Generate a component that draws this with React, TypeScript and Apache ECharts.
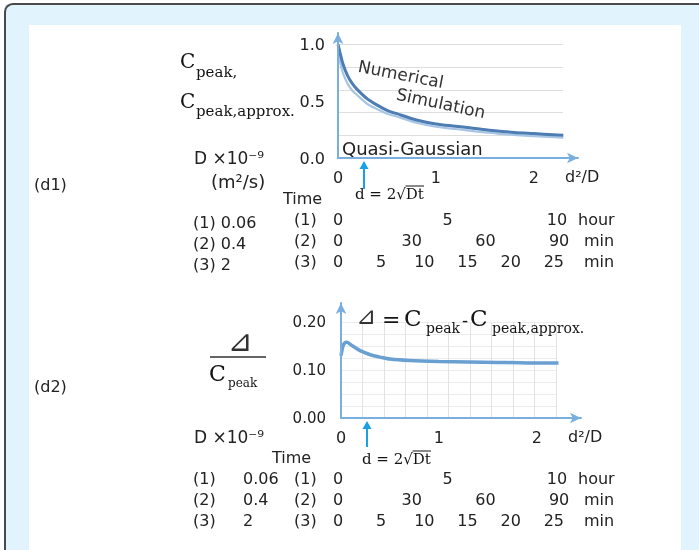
import React, { useEffect, useRef } from 'react';
import * as echarts from 'echarts';

// ---- data ----
const ratioX = [0, 0.02, 0.05, 0.1, 0.15, 0.2, 0.3, 0.4, 0.5, 0.6, 0.8, 1.0, 1.2, 1.4, 1.6, 1.8, 2.0, 2.2, 2.3];
const numericalPeak = [1.0, 0.93, 0.83, 0.72, 0.65, 0.6, 0.52, 0.465, 0.42, 0.39, 0.335, 0.3, 0.28, 0.26, 0.24, 0.225, 0.215, 0.205, 0.2];
const quasiGaussianPeak = [0.97, 0.85, 0.75, 0.65, 0.59, 0.55, 0.475, 0.43, 0.39, 0.365, 0.31, 0.275, 0.255, 0.235, 0.218, 0.203, 0.193, 0.184, 0.18];

const deltaX = [0, 0.02, 0.04, 0.06, 0.1, 0.15, 0.2, 0.3, 0.4, 0.5, 0.7, 1.0, 1.3, 1.6, 1.9, 2.22];
const deltaRatio = [0.13, 0.15, 0.157, 0.158, 0.153, 0.146, 0.14, 0.132, 0.127, 0.123, 0.12, 0.118, 0.117, 0.116, 0.115, 0.115];

const rowNames = ['(1)', '(2)', '(3)'];
const diffusivities = ['0.06', '0.4', '2'];
const timeUnits = ['hour', 'min', 'min'];
const timeIntervals = [5, 30, 5];
// time value that corresponds to the right end (d²/D = 2.45) of each axis row
const timeAtAxisEnd = [10.96, 97.7, 27.8];

const ratioMax = 2.45;
const peakMax = 1.1;
const deltaMax = 0.24;

const AXIS = '#78aee0';
const TXT = '#222';
const DARK = '#141414';
const SANS = 'DejaVu Sans';
const SERIF = 'DejaVu Serif';

function txt(text: string, x: number, y: number, size: number, family = SANS, extra: any = {}) {
  const align = extra.align || 'left';
  const { align: _a, fill: _f, ...rest } = extra;
  return {
    type: 'text',
    x,
    y,
    z: 5,
    ...rest,
    style: {
      text,
      fill: extra.fill || TXT,
      fontSize: size,
      fontFamily: family,
      align,
      textAlign: align,
      verticalAlign: 'middle',
      textVerticalAlign: 'middle',
    },
  };
}

function arrow(x: number, yBottom: number, yTip: number) {
  return [
    { type: 'line', z: 5, shape: { x1: x, y1: yBottom, x2: x, y2: yTip + 5 }, style: { stroke: '#1b9fe6', lineWidth: 2 } },
    { type: 'polygon', z: 5, shape: { points: [[x - 4.5, yTip + 8], [x, yTip], [x + 4.5, yTip + 8]] }, style: { fill: '#1b9fe6' } },
  ];
}

function timeAxes(baseOffset: number) {
  return rowNames.map((_, i) => ({
    gridIndex: 0,
    type: 'value',
    position: 'bottom',
    offset: baseOffset + i * 21,
    min: 0,
    max: timeAtAxisEnd[i],
    interval: timeIntervals[i],
    axisLine: { show: false, onZero: false },
    axisTick: { show: false },
    splitLine: { show: false },
    axisLabel: { margin: 0, verticalAlign: 'middle', showMaxLabel: false, fontSize: 16, color: TXT, fontFamily: SANS },
    name: timeUnits[i],
    nameLocation: 'end',
    nameGap: i === 0 ? 0 : 6,
    nameTextStyle: { fontSize: 16, color: TXT, fontFamily: SANS, align: 'left', verticalAlign: 'middle' },
  }));
}

function mainX(gridIndex: number) {
  return {
    gridIndex,
    type: 'value',
    min: 0,
    max: ratioMax,
    interval: 1,
    z: 3,
    axisLine: { show: true, onZero: false, symbol: ['none', 'arrow'], symbolSize: [8, 11], lineStyle: { color: AXIS, width: 2 } },
    axisTick: { show: false },
    splitLine: { show: false },
    axisLabel: { showMaxLabel: false, margin: 11, fontSize: 16, color: TXT, fontFamily: SANS },
    name: 'd²/D',
    nameLocation: 'end',
    nameGap: -13,
    nameTextStyle: { fontSize: 16, color: TXT, fontFamily: SANS, align: 'left', verticalAlign: 'top', padding: [10, 0, 0, 0] },
  };
}

const hidden = { axisLine: { show: false, onZero: false }, axisTick: { show: false }, axisLabel: { show: false } };

export default function App() {
  const ref = useRef<HTMLDivElement>(null);
  useEffect(() => {
    if (!ref.current) return;
    const chart = echarts.init(ref.current, undefined, { renderer: 'svg' });

    const elements: any[] = [
      // frame: light blue band, dark border on top and left (rounded corner), white sheet
      { type: 'rect', z: -10, shape: { x: 5, y: 4, width: 694, height: 546 }, style: { fill: '#e1f3fc' } },
      {
        type: 'polyline', z: -8,
        shape: { points: [[5, 550], [5, 12], [5.6, 8.8], [7.3, 6.3], [9.8, 4.6], [13, 4], [699, 4]] },
        style: { stroke: '#4a4a4a', lineWidth: 2, fill: 'none' },
      },
      { type: 'rect', z: -9, shape: { x: 29, y: 25, width: 652, height: 525 }, style: { fill: '#ffffff' } },

      // ---- panel d1 ----
      txt('(d1)', 34, 184, 16),
      txt('C', 180, 61, 20, SERIF, { fill: DARK }),
      txt('peak,', 196, 72, 15, SERIF, { fill: DARK }),
      txt('C', 180, 101, 20, SERIF, { fill: DARK }),
      txt('peak,approx.', 196, 111, 15, SERIF, { fill: DARK }),
      txt('D ×10⁻⁹', 194, 158, 17),
      txt('(m²/s)', 211, 181, 18),
      txt('Time', 283, 198, 16),
      txt('Numerical', 401, 74, 17, SANS, { align: 'center', rotation: -0.19, fill: '#333' }),
      txt('Simulation', 441, 103, 17, SANS, { align: 'center', rotation: -0.21, fill: '#333' }),
      txt('Quasi-Gaussian', 342, 148, 18),
      ...arrow(364, 189, 161),
      txt('d = 2√Dt', 355, 194, 15, SERIF, { fill: DARK }),
      { type: 'line', z: 5, shape: { x1: 405.5, y1: 186, x2: 424, y2: 186 }, style: { stroke: DARK, lineWidth: 1 } },

      // ---- panel d2 ----
      txt('(d2)', 34, 386, 16),
      txt('⊿', 240, 340, 30, SANS, { align: 'center', fill: '#333' }),
      { type: 'line', z: 5, shape: { x1: 210, y1: 357, x2: 266, y2: 357 }, style: { stroke: '#333', lineWidth: 1.5 } },
      txt('C', 209, 373, 22, SERIF, { fill: DARK }),
      txt('peak', 228, 383, 12, SERIF, { fill: DARK }),
      txt('⊿', 356, 316, 24, SANS, { fill: '#333' }),
      txt('=', 382, 319, 22, SERIF, { fill: DARK }),
      txt('C', 404, 318, 23, SERIF, { fill: DARK }),
      txt('peak', 426, 328, 14, SERIF, { fill: DARK }),
      txt('-', 462, 320, 18, SERIF, { fill: DARK }),
      txt('C', 470, 318, 23, SERIF, { fill: DARK }),
      txt('peak,approx.', 492, 328, 14, SERIF, { fill: DARK }),
      txt('D ×10⁻⁹', 194, 437, 17),
      txt('Time', 272, 457, 16),
      ...arrow(367, 447, 421),
      txt('d = 2√Dt', 362, 459, 15, SERIF, { fill: DARK }),
      { type: 'line', z: 5, shape: { x1: 412.5, y1: 451, x2: 431, y2: 451 }, style: { stroke: DARK, lineWidth: 1 } },
    ];

    // left legend rows: (n) D value, and the (n) prefix of the time rows
    rowNames.forEach((n, i) => {
      elements.push(txt(n + ' ' + diffusivities[i], 193, 222 + i * 21, 16));
      elements.push(txt(n, 294, 219 + i * 21, 16));
      elements.push(txt(n, 193, 478 + i * 21, 16));
      elements.push(txt(diffusivities[i], 243, 478 + i * 21, 16));
      elements.push(txt(n, 294, 478 + i * 21, 16));
    });

    const option: any = {
      animation: false,
      grid: [
        { left: 338, top: 33, width: 240, height: 125, containLabel: false, outerBoundsMode: 'none' },
        { left: 338, top: 158 - 1.0 * (125 / peakMax), width: 225, height: 125 / peakMax, containLabel: false, outerBoundsMode: 'none' },
        { left: 341, top: 303, width: 240, height: 115, containLabel: false, outerBoundsMode: 'none' },
        { left: 341, top: 418 - 0.2 * (115 / deltaMax), width: 215, height: 0.2 * (115 / deltaMax), containLabel: false, outerBoundsMode: 'none' },
      ],
      xAxis: [
        mainX(0),
        { gridIndex: 1, type: 'value', min: 0, max: 2.3, ...hidden, splitLine: { show: false } },
        ...timeAxes(61),
        ...timeAxes(320),
        mainX(2),
        { gridIndex: 3, type: 'value', min: 0, max: 10, interval: 1, z: 0, ...hidden, splitLine: { show: true, lineStyle: { color: '#e3e3e3', width: 1 } } },
      ],
      yAxis: [
        {
          gridIndex: 0, type: 'value', min: 0, max: peakMax, interval: 0.5, z: 3,
          axisLine: { show: true, onZero: false, symbol: ['none', 'arrow'], symbolSize: [8, 11], lineStyle: { color: AXIS, width: 2 } },
          axisTick: { show: false }, splitLine: { show: false },
          axisLabel: { showMaxLabel: false, margin: 13, fontSize: 16, color: TXT, fontFamily: SANS, formatter: (v: number) => v.toFixed(1) },
        },
        { gridIndex: 1, type: 'value', min: 0, max: 1.0, interval: 0.2, z: 0, ...hidden, splitLine: { show: true, lineStyle: { color: '#dedede', width: 1 } } },
        {
          gridIndex: 2, type: 'value', min: 0, max: deltaMax, interval: 0.1, z: 3,
          axisLine: { show: true, onZero: false, symbol: ['none', 'arrow'], symbolSize: [8, 11], lineStyle: { color: AXIS, width: 2 } },
          axisTick: { show: false }, splitLine: { show: false },
          axisLabel: { showMaxLabel: false, margin: 15, fontSize: 15, color: TXT, fontFamily: SANS, formatter: (v: number) => v.toFixed(2) },
        },
        { gridIndex: 3, type: 'value', min: 0, max: 8, interval: 1, z: 0, ...hidden, splitLine: { show: true, lineStyle: { color: '#ececec', width: 1 } } },
      ],
      series: [
        {
          type: 'line', name: 'Quasi-Gaussian', xAxisIndex: 0, yAxisIndex: 0, smooth: 0.3, symbol: 'none', z: 2,
          data: ratioX.map((x, i) => [x, quasiGaussianPeak[i]]),
          lineStyle: { color: '#a8c5e5', width: 2.2 },
        },
        {
          type: 'line', name: 'Numerical Simulation', xAxisIndex: 0, yAxisIndex: 0, smooth: 0.3, symbol: 'none', z: 2,
          data: ratioX.map((x, i) => [x, numericalPeak[i]]),
          lineStyle: { color: '#4d7db3', width: 3 },
        },
        {
          type: 'line', name: 'Delta/Cpeak', xAxisIndex: 8, yAxisIndex: 2, smooth: 0.3, symbol: 'none', z: 2,
          data: deltaX.map((x, i) => [x, deltaRatio[i]]),
          lineStyle: { color: '#6a9fd2', width: 3.5 },
        },
      ],
      graphic: { elements },
    };

    chart.setOption(option);
    return () => chart.dispose();
  }, []);

  return <div ref={ref} style={{ position: 'fixed', left: 0, top: 0, width: 699, height: 550 }} />;
}
